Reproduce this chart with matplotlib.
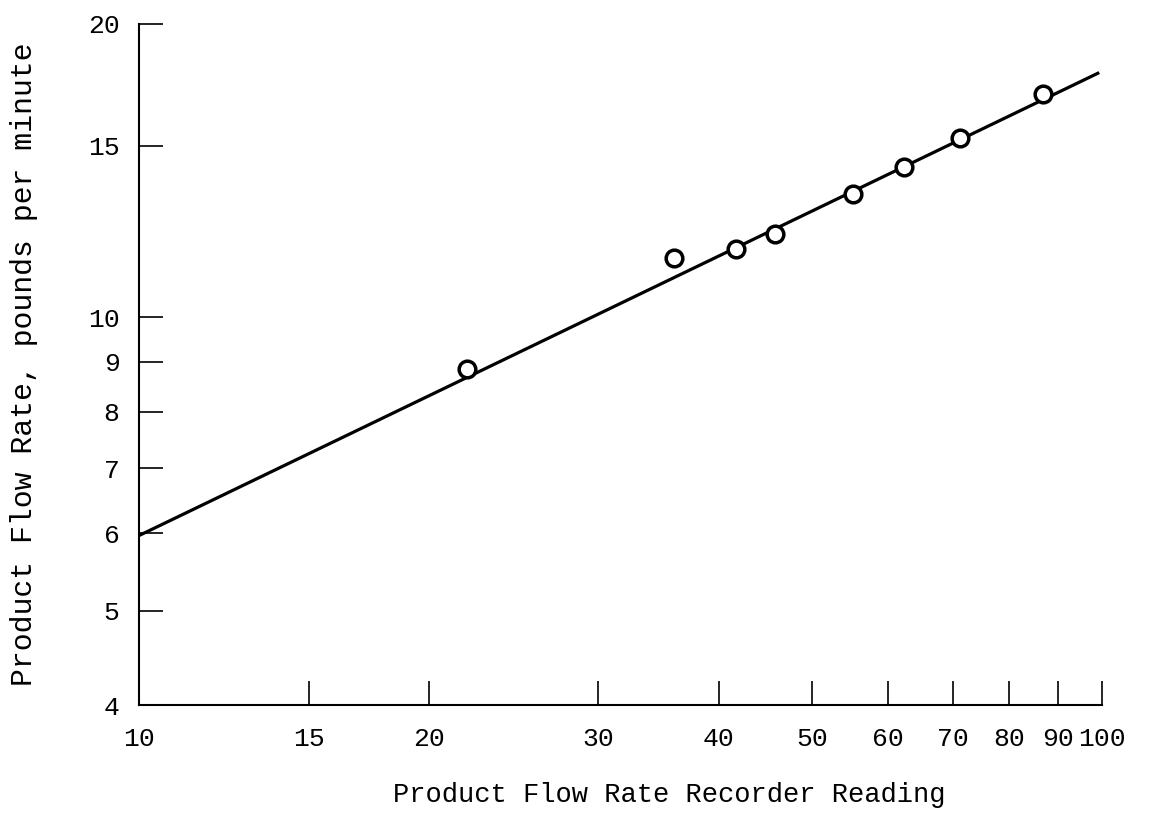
import matplotlib.pyplot as plt
from matplotlib.ticker import FixedLocator, NullLocator

# recorder reading vs. flow rate
reading = [21.9, 35.9, 41.7, 45.8, 55.1, 62.3, 71.2, 86.9]
flow = [8.84, 11.5, 11.75, 12.18, 13.38, 14.26, 15.27, 16.95]

# fitted line end points
fit_x = [10, 99]
fit_y = [5.97, 17.8]

x_ticks = [10, 15, 20, 30, 40, 50, 60, 70, 80, 90, 100]
y_ticks = [4, 5, 6, 7, 8, 9, 10, 15, 20]

plt.rcParams['font.family'] = ['Liberation Mono', 'DejaVu Sans Mono']

fig = plt.figure(figsize=(11.65, 8.27), dpi=100)
ax = fig.add_axes([0.1193, 0.1475, 0.8266, 0.8235])

ax.plot(fit_x, fit_y, color="black", lw=2.3, zorder=2)
ax.plot(reading, flow, "o", ms=12, mfc="white", mec="black", mew=2.5, zorder=3)

ax.set_xscale("log")
ax.set_yscale("log")
ax.set_xlim(10, 100)
ax.set_ylim(4, 20)

ax.xaxis.set_major_locator(FixedLocator(x_ticks))
ax.yaxis.set_major_locator(FixedLocator(y_ticks))
ax.xaxis.set_minor_locator(NullLocator())
ax.yaxis.set_minor_locator(NullLocator())
ax.set_xticklabels([str(v) for v in x_ticks])
ax.set_yticklabels([str(v) for v in y_ticks])

ax.tick_params(axis="x", direction="in", length=17, width=1.2, labelsize=19, pad=16)
ax.tick_params(axis="y", direction="in", length=17, width=1.2, labelsize=19, pad=14)

ax.spines["top"].set_visible(False)
ax.spines["right"].set_visible(False)
ax.spines["left"].set_linewidth(1.5)
ax.spines["bottom"].set_linewidth(1.5)

ax.set_xlabel("Product Flow Rate Recorder Reading", fontsize=19.5, labelpad=22)
ax.xaxis.label.set_x(0.551)  # label sits a bit right of centre in the original
ax.set_ylabel("Product Flow Rate, pounds per minute", fontsize=21.5, labelpad=36)

fig.savefig("out.png", dpi=100)
